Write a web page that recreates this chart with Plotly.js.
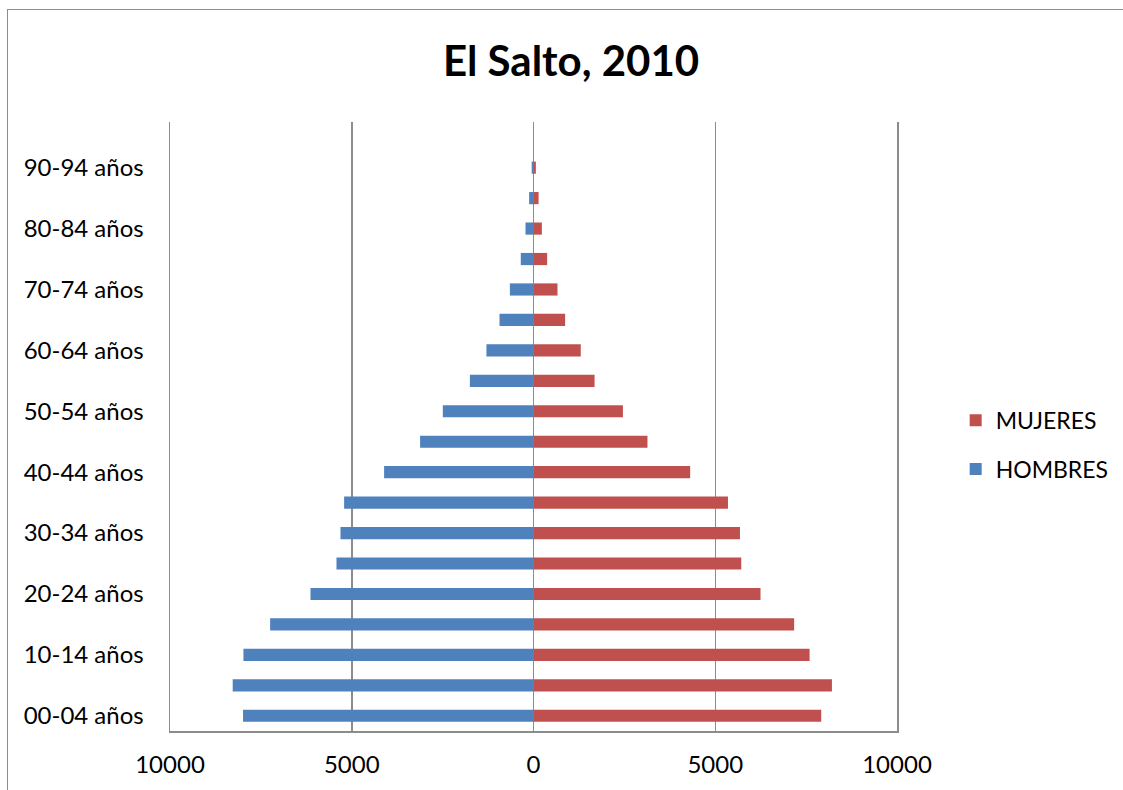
<!DOCTYPE html>
<html>
<head>
<meta charset="utf-8">
<script src="https://cdn.plot.ly/plotly-3.0.1.min.js"></script>
<style>
  html, body { margin: 0; padding: 0; background: #fff; overflow: hidden; }
  #frame { position: absolute; left: 7px; top: 9px; width: 1200px; height: 900px; border: 1.5px solid #8c8c8c; box-sizing: border-box; }
  #chart { position: absolute; left: 0; top: 0; width: 1123px; height: 790px; }
</style>
</head>
<body>
<div id="frame"></div>
<div id="chart"></div>
<script>
const ageGroups = ["00-04 años","05-09 años","10-14 años","15-19 años","20-24 años","25-29 años","30-34 años","35-39 años","40-44 años","45-49 años","50-54 años","55-59 años","60-64 años","65-69 años","70-74 años","75-79 años","80-84 años","85-89 años","90-94 años","95-99 años"];
const hombres = [7990, 8275, 7980, 7245, 6135, 5420, 5310, 5210, 4110, 3120, 2495, 1750, 1295, 935, 650, 350, 220, 120, 50, 0];
const mujeres = [7915, 8210, 7595, 7170, 6245, 5715, 5680, 5350, 4310, 3135, 2460, 1680, 1300, 870, 660, 375, 230, 140, 65, 0];
const yTickLabels = ["00-04 años","10-14 años","20-24 años","30-34 años","40-44 años","50-54 años","60-64 años","70-74 años","80-84 años","90-94 años"];
const xTickVals = [-10000, -5000, 0, 5000, 10000];
const xTickText = ["10000", "5000", "0", "5000", "10000"];

const font = "Lato, 'Open Sans', sans-serif";

const traces = [
  {
    type: "bar", orientation: "h", name: "MUJERES",
    y: ageGroups, x: mujeres,
    marker: { color: "#C0504D" },
    legendgroup: "m"
  },
  {
    type: "bar", orientation: "h", name: "HOMBRES",
    y: ageGroups, x: hombres.map(v => -v),
    marker: { color: "#4F81BD" },
    legendgroup: "h"
  }
];

const layout = {
  width: 1123, height: 790,
  paper_bgcolor: "rgba(0,0,0,0)", plot_bgcolor: "rgba(0,0,0,0)",
  margin: { l: 170, r: 226, t: 122, b: 59, autoexpand: false },
  title: { text: "<b>El Salto, 2010</b>", xref: "container", x: 0.5085, xanchor: "center",
           yref: "container", y: 0.922, yanchor: "middle",
           font: { family: font, size: 42, color: "#000" } },
  barmode: "overlay",
  bargap: 0.6,
  showlegend: true,
  legend: { xref: "container", x: 0.851, xanchor: "left", yref: "paper", y: 0.47, yanchor: "middle",
            font: { family: font, size: 23, color: "#000" },
            traceorder: "grouped", tracegroupgap: 16, itemwidth: 30 },
  xaxis: {
    range: [-10000, 10000], tickvals: xTickVals, ticktext: xTickText,
    showgrid: true, gridcolor: "#8c8c8c", gridwidth: 1.5,
    zeroline: true, zerolinecolor: "#8c8c8c", zerolinewidth: 1.5,
    showline: true, linecolor: "#8c8c8c", linewidth: 1.5,
    ticks: "", ticklabelstandoff: 12,
    tickfont: { family: font, size: 24, color: "#000" },
    fixedrange: true
  },
  yaxis: {
    type: "category", categoryorder: "array", categoryarray: ageGroups,
    range: [-0.5, 19.5],
    tickvals: yTickLabels, ticktext: yTickLabels,
    showgrid: false, zeroline: false,
    showline: true, mirror: true, linecolor: "#8c8c8c", linewidth: 1.5,
    ticks: "", ticklabelstandoff: 20,
    tickfont: { family: font, size: 24, color: "#000" },
    fixedrange: true
  }
};

Plotly.newPlot("chart", traces, layout, { displayModeBar: false, staticPlot: true });
</script>
</body>
</html>
